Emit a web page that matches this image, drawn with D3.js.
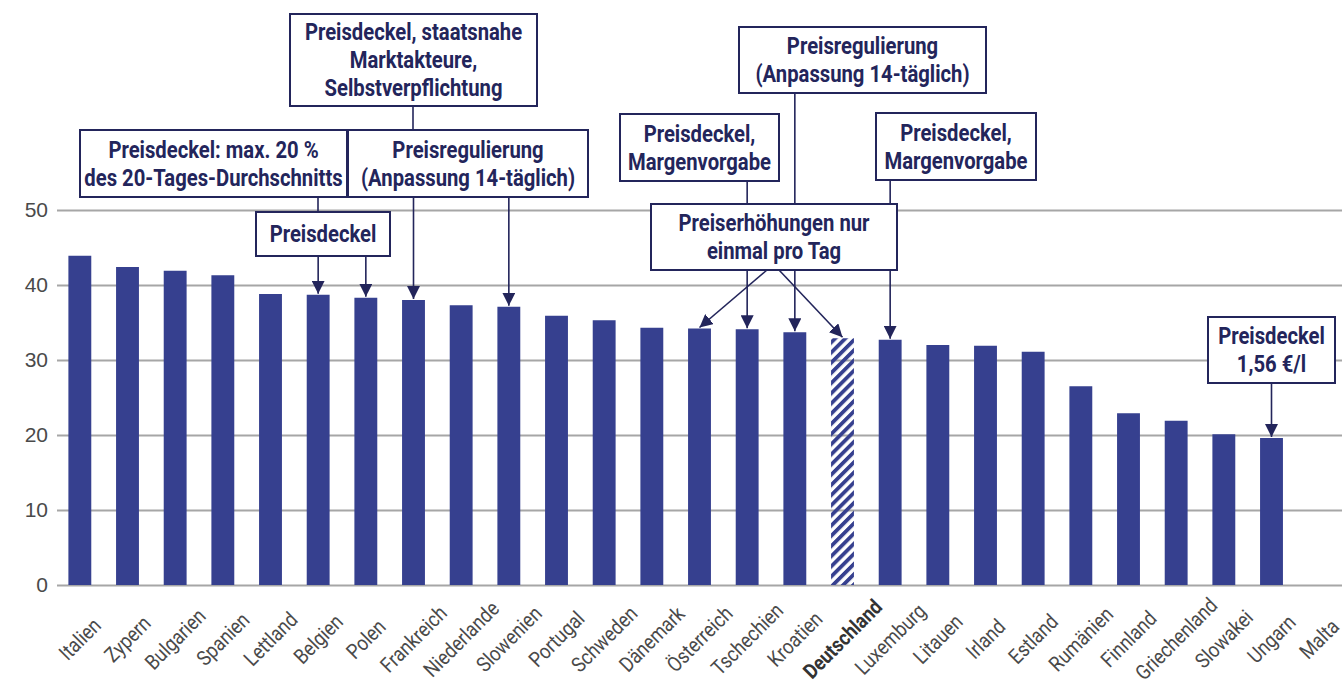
<!DOCTYPE html>
<html>
<head>
<meta charset="utf-8">
<script src="https://cdn.jsdelivr.net/npm/d3@7/dist/d3.min.js"></script>
<style>
  body { margin: 0; background: #fff; }
</style>
</head>
<body>
<svg id="chart"></svg>
<script>
// Daten
const countries = ['Italien', 'Zypern', 'Bulgarien', 'Spanien', 'Lettland', 'Belgien', 'Polen',
  'Frankreich', 'Niederlande', 'Slowenien', 'Portugal', 'Schweden', 'Dänemark', 'Österreich',
  'Tschechien', 'Kroatien', 'Deutschland', 'Luxemburg', 'Litauen', 'Irland', 'Estland',
  'Rumänien', 'Finnland', 'Griechenland', 'Slowakei', 'Ungarn', 'Malta'];
const values = [43.9, 42.4, 41.9, 41.3, 38.8, 38.7, 38.3, 38.0, 37.3, 37.1, 35.9, 35.3, 34.3, 34.2,
  34.1, 33.7, 32.9, 32.7, 32.0, 31.9, 31.1, 26.5, 22.9, 21.9, 20.1, 19.6, null];
const highlight = 'Deutschland';
const yTicks = [0, 10, 20, 30, 40, 50];

// Anmerkungen (Text)
const noteA = ['Preisdeckel, staatsnahe', 'Marktakteure,', 'Selbstverpflichtung'];
const noteB = ['Preisdeckel: max. 20 %', 'des 20-Tages-Durchschnitts'];
const noteC = ['Preisregulierung', '(Anpassung 14-täglich)'];
const noteP = ['Preisdeckel'];
const noteD = ['Preisregulierung', '(Anpassung 14-täglich)'];
const noteE = ['Preisdeckel,', 'Margenvorgabe'];
const noteF = ['Preisdeckel,', 'Margenvorgabe'];
const noteG = ['Preiserhöhungen nur', 'einmal pro Tag'];
const noteH = ['Preisdeckel', '1,56 €/l'];

const width = 1342, height = 686;
const navy = '#36408f';
const ink = '#23255b';
const font = 'Roboto, "Liberation Sans", sans-serif';

const svg = d3.select('#chart')
  .attr('width', width)
  .attr('height', height);

// Skalen
const x = d3.scaleBand()
  .domain(countries)
  .range([56, 1343])
  .paddingInner(0.52)
  .paddingOuter(0.26);

const y = d3.scaleLinear()
  .domain([0, 50])
  .range([585, 210]);

const cx = (c) => x(c) + x.bandwidth() / 2;
const barTop = (c) => y(values[countries.indexOf(c)]);

// Schraffur für Deutschland
const defs = svg.append('defs');
defs.append('pattern')
  .attr('id', 'hatch')
  .attr('patternUnits', 'userSpaceOnUse')
  .attr('width', 7.2)
  .attr('height', 7.2)
  .attr('patternTransform', 'rotate(45)')
  .append('rect')
  .attr('width', 3.8)
  .attr('height', 7.2)
  .attr('fill', navy);

defs.append('marker')
  .attr('id', 'head')
  .attr('markerUnits', 'userSpaceOnUse')
  .attr('viewBox', '0 0 12 12')
  .attr('refX', 12)
  .attr('refY', 6)
  .attr('markerWidth', 13)
  .attr('markerHeight', 13)
  .attr('orient', 'auto')
  .append('path')
  .attr('d', 'M0,0L12,6L0,12Z')
  .attr('fill', ink);

// Y-Achse mit Gitterlinien
const yAxis = svg.append('g')
  .attr('transform', 'translate(57,0)')
  .call(d3.axisLeft(y).tickValues(yTicks).tickSize(-(width - 57)).tickPadding(9));
yAxis.select('.domain').remove();
yAxis.selectAll('.tick line')
  .attr('stroke', '#a6a6a6')
  .attr('stroke-width', 2);
yAxis.selectAll('.tick text')
  .attr('fill', '#4a4a4a')
  .style('font-family', '"Liberation Sans", sans-serif')
  .style('font-size', '21px');

// Balken
const rows = countries.map((c, i) => ({ c, v: values[i] })).filter((d) => d.v != null);
svg.append('g')
  .selectAll('rect')
  .data(rows)
  .join('rect')
  .attr('x', (d) => x(d.c))
  .attr('y', (d) => y(d.v))
  .attr('width', x.bandwidth())
  .attr('height', (d) => y(0) - y(d.v))
  .attr('fill', (d) => (d.c === highlight ? 'url(#hatch)' : navy));

// X-Beschriftung (schmal gestaucht wie Condensed-Schrift)
svg.append('g')
  .selectAll('text')
  .data(countries)
  .join('text')
  .attr('transform', (d) => `translate(${cx(d)},639) rotate(-45) scale(0.86,1)`)
  .attr('text-anchor', 'middle')
  .attr('dy', '0.35em')
  .attr('fill', (d) => (d === highlight ? '#333' : '#4a4a4a'))
  .style('font-family', font)
  .style('font-size', '21px')
  .style('font-weight', (d) => (d === highlight ? 'bold' : 'normal'))
  .text((d) => d);

// Kästen (Layout)
const boxes = {
  A: { x0: 290, y0: 14, x1: 537, y1: 106, lines: noteA },
  B: { x0: 80, y0: 130, x1: 347, y1: 197, lines: noteB },
  C: { x0: 348, y0: 130, x1: 588, y1: 197, lines: noteC },
  P: { x0: 256, y0: 212, x1: 390, y1: 256, lines: noteP },
  D: { x0: 739, y0: 27, x1: 986, y1: 93, lines: noteD },
  E: { x0: 620, y0: 114, x1: 779, y1: 181, lines: noteE },
  F: { x0: 876, y0: 113, x1: 1036, y1: 180, lines: noteF },
  G: { x0: 651, y0: 204, x1: 897, y1: 270, lines: noteG },
  H: { x0: 1208, y0: 317, x1: 1335, y1: 383, lines: noteH }
};

// Verbindungslinien zwischen Kästen
const joins = [
  { from: 'A', to: 'C', px: 413 },
  { from: 'B', to: 'P', px: 318 }
];
// Pfeile zu Balken
const arrows = [
  { from: 'P', to: 'Belgien' },
  { from: 'P', to: 'Polen' },
  { from: 'C', to: 'Frankreich' },
  { from: 'C', to: 'Slowenien' },
  { from: 'E', to: 'Tschechien' },
  { from: 'D', to: 'Kroatien' },
  { from: 'F', to: 'Luxemburg' },
  { from: 'G', to: 'Österreich', px: 767 },
  { from: 'G', to: 'Deutschland', px: 779 },
  { from: 'H', to: 'Ungarn' }
];

const links = svg.append('g')
  .attr('stroke', ink)
  .attr('stroke-width', 1.6)
  .attr('fill', 'none');

joins.forEach((j) => {
  links.append('line')
    .attr('x1', j.px).attr('x2', j.px)
    .attr('y1', boxes[j.from].y1).attr('y2', boxes[j.to].y0);
});

arrows.forEach((a) => {
  const tx = cx(a.to);
  const sx = a.px != null ? a.px : tx;
  links.append('line')
    .attr('x1', sx)
    .attr('y1', boxes[a.from].y1)
    .attr('x2', tx)
    .attr('y2', barTop(a.to) - 1)
    .attr('marker-end', 'url(#head)');
});

// Kästen zeichnen
const box = svg.append('g')
  .selectAll('g')
  .data(Object.values(boxes))
  .join('g');

box.append('rect')
  .attr('x', (d) => d.x0)
  .attr('y', (d) => d.y0)
  .attr('width', (d) => d.x1 - d.x0)
  .attr('height', (d) => d.y1 - d.y0)
  .attr('fill', '#fff')
  .attr('stroke', ink)
  .attr('stroke-width', 2);

box.each(function (d) {
  const mid = (d.y0 + d.y1) / 2;
  const lh = 28;
  d3.select(this).selectAll('text')
    .data(d.lines)
    .join('text')
    .attr('transform', (t, i) =>
      `translate(${(d.x0 + d.x1) / 2},${mid + (i - (d.lines.length - 1) / 2) * lh}) scale(0.88,1)`)
    .attr('dy', '0.36em')
    .attr('text-anchor', 'middle')
    .attr('fill', ink)
    .style('font-family', font)
    .style('font-size', '23px')
    .style('font-weight', 'bold')
    .text((t) => t);
});
</script>
</body>
</html>
